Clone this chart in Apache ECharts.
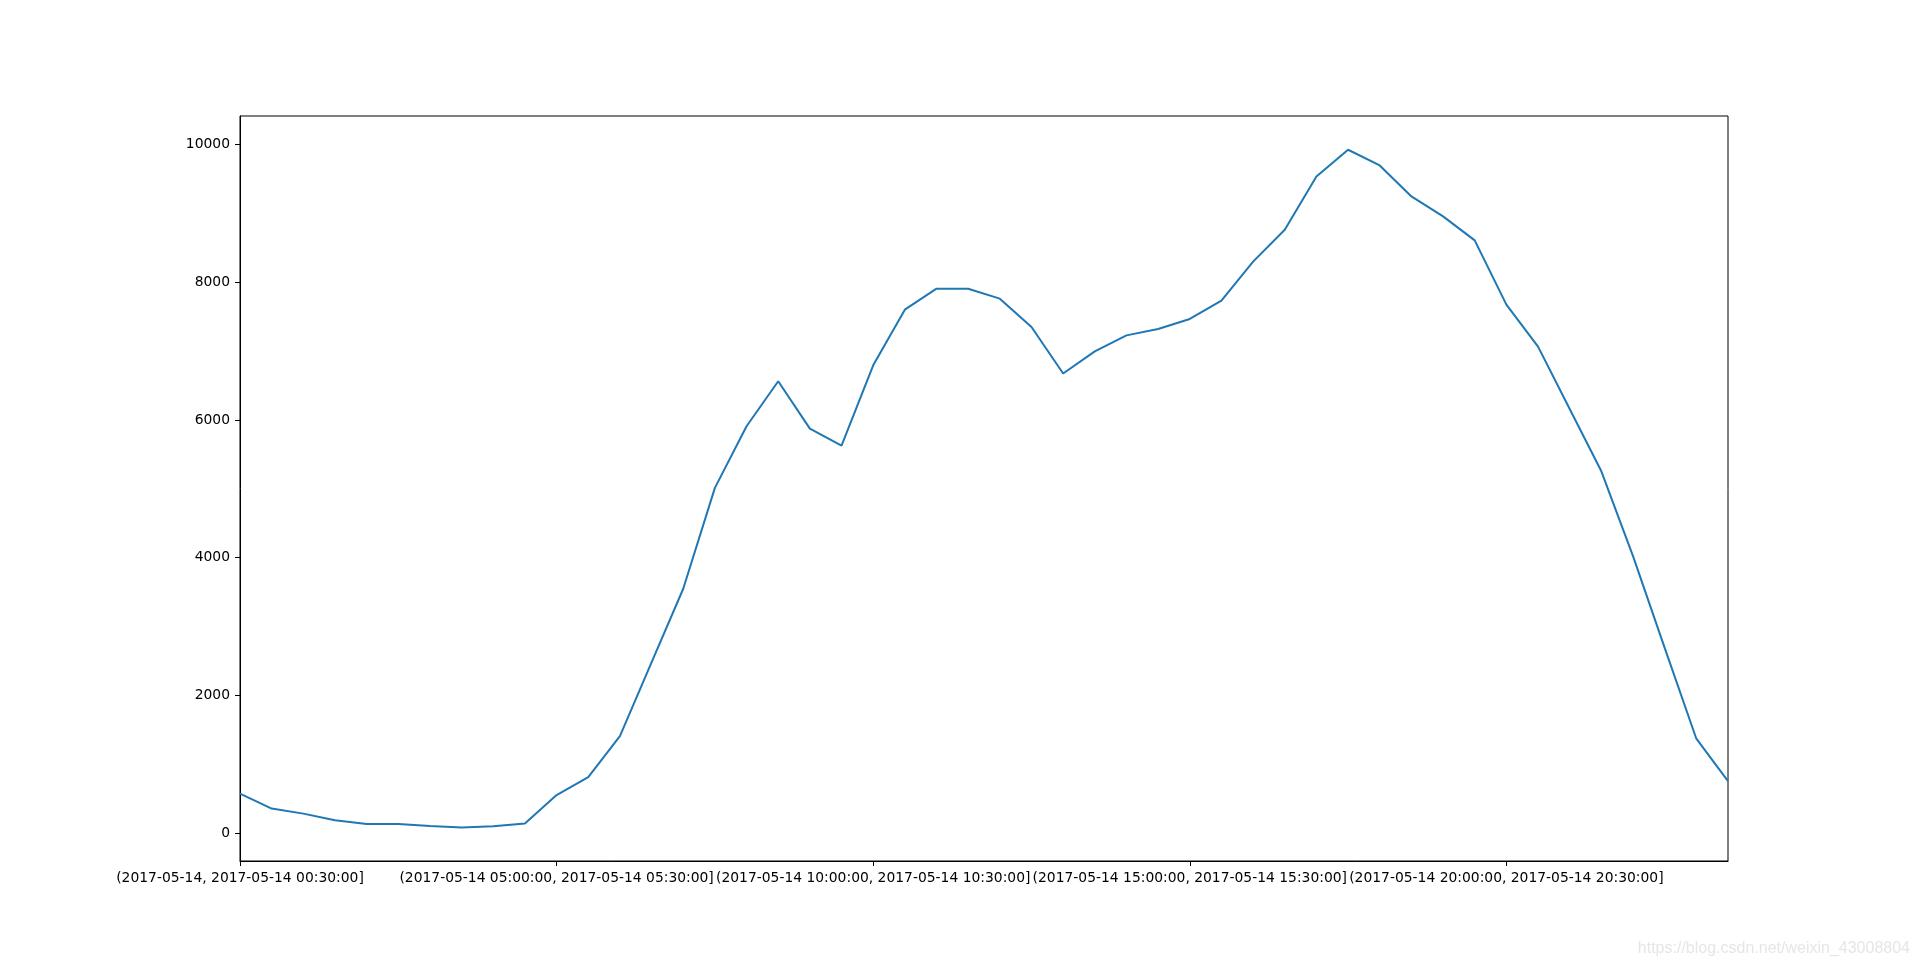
<!DOCTYPE html>
<html>
<head>
<meta charset="utf-8">
<script src="https://cdn.jsdelivr.net/npm/echarts@6/dist/echarts.min.js"></script>
<style>
html,body{margin:0;padding:0;background:#fff;}
#chart{width:1920px;height:969px;}
</style>
</head>
<body>
<div id="chart"></div>
<script>
const categories = [
"(2017-05-14, 2017-05-14 00:30:00]",
"(2017-05-14 00:30:00, 2017-05-14 01:00:00]",
"(2017-05-14 01:00:00, 2017-05-14 01:30:00]",
"(2017-05-14 01:30:00, 2017-05-14 02:00:00]",
"(2017-05-14 02:00:00, 2017-05-14 02:30:00]",
"(2017-05-14 02:30:00, 2017-05-14 03:00:00]",
"(2017-05-14 03:00:00, 2017-05-14 03:30:00]",
"(2017-05-14 03:30:00, 2017-05-14 04:00:00]",
"(2017-05-14 04:00:00, 2017-05-14 04:30:00]",
"(2017-05-14 04:30:00, 2017-05-14 05:00:00]",
"(2017-05-14 05:00:00, 2017-05-14 05:30:00]",
"(2017-05-14 05:30:00, 2017-05-14 06:00:00]",
"(2017-05-14 06:00:00, 2017-05-14 06:30:00]",
"(2017-05-14 06:30:00, 2017-05-14 07:00:00]",
"(2017-05-14 07:00:00, 2017-05-14 07:30:00]",
"(2017-05-14 07:30:00, 2017-05-14 08:00:00]",
"(2017-05-14 08:00:00, 2017-05-14 08:30:00]",
"(2017-05-14 08:30:00, 2017-05-14 09:00:00]",
"(2017-05-14 09:00:00, 2017-05-14 09:30:00]",
"(2017-05-14 09:30:00, 2017-05-14 10:00:00]",
"(2017-05-14 10:00:00, 2017-05-14 10:30:00]",
"(2017-05-14 10:30:00, 2017-05-14 11:00:00]",
"(2017-05-14 11:00:00, 2017-05-14 11:30:00]",
"(2017-05-14 11:30:00, 2017-05-14 12:00:00]",
"(2017-05-14 12:00:00, 2017-05-14 12:30:00]",
"(2017-05-14 12:30:00, 2017-05-14 13:00:00]",
"(2017-05-14 13:00:00, 2017-05-14 13:30:00]",
"(2017-05-14 13:30:00, 2017-05-14 14:00:00]",
"(2017-05-14 14:00:00, 2017-05-14 14:30:00]",
"(2017-05-14 14:30:00, 2017-05-14 15:00:00]",
"(2017-05-14 15:00:00, 2017-05-14 15:30:00]",
"(2017-05-14 15:30:00, 2017-05-14 16:00:00]",
"(2017-05-14 16:00:00, 2017-05-14 16:30:00]",
"(2017-05-14 16:30:00, 2017-05-14 17:00:00]",
"(2017-05-14 17:00:00, 2017-05-14 17:30:00]",
"(2017-05-14 17:30:00, 2017-05-14 18:00:00]",
"(2017-05-14 18:00:00, 2017-05-14 18:30:00]",
"(2017-05-14 18:30:00, 2017-05-14 19:00:00]",
"(2017-05-14 19:00:00, 2017-05-14 19:30:00]",
"(2017-05-14 19:30:00, 2017-05-14 20:00:00]",
"(2017-05-14 20:00:00, 2017-05-14 20:30:00]",
"(2017-05-14 20:30:00, 2017-05-14 21:00:00]",
"(2017-05-14 21:00:00, 2017-05-14 21:30:00]",
"(2017-05-14 21:30:00, 2017-05-14 22:00:00]",
"(2017-05-14 22:00:00, 2017-05-14 22:30:00]",
"(2017-05-14 22:30:00, 2017-05-14 23:00:00]",
"(2017-05-14 23:00:00, 2017-05-14 23:30:00]",
"(2017-05-14 23:30:00, 2017-05-15 00:00:00]"
];
const values = [573, 356, 283, 186, 132, 132, 103, 80, 99, 138,
  553, 814, 1410, 2480, 3549, 5014, 5909, 6562, 5875, 5628,
  6794, 7602, 7907, 7907, 7762, 7351, 6676, 6997, 7229, 7322,
  7467, 7733, 8300, 8763, 9537, 9925, 9697, 9247, 8957, 8608,
  7675, 7065, 6160, 5255, 4022, 2690, 1371, 756];
const xTickIndices = [0, 10, 20, 30, 40];
const yTicks = [0, 2000, 4000, 6000, 8000, 10000];
const yMin = -405, yMax = 10415;

const chart = echarts.init(document.getElementById('chart'), null, {renderer: 'canvas'});
const font = 'DejaVu Sans';
const showIdx = (i) => xTickIndices.indexOf(i) >= 0;
chart.setOption({
  animation: false,
  backgroundColor: '#ffffff',
  grid: {left: 240, right: 192, top: 116, bottom: 108, show: true, borderColor: '#000', borderWidth: 1, backgroundColor: 'transparent'},
  xAxis: {
    type: 'category',
    data: categories,
    boundaryGap: false,
    axisLine: {show: true, onZero: false, lineStyle: {color: '#000', width: 1}},
    axisTick: {show: true, inside: false, length: 5, interval: (i) => showIdx(i), lineStyle: {color: '#000', width: 1}},
    axisLabel: {show: true, interval: (i) => showIdx(i), margin: 10, color: '#000', fontFamily: font, fontSize: 13.89, hideOverlap: false},
    splitLine: {show: false}
  },
  yAxis: {
    type: 'value',
    min: yMin,
    max: yMax,
    axisLine: {show: true, lineStyle: {color: '#000', width: 1}},
    axisTick: {show: true, inside: false, length: 5, customValues: yTicks, lineStyle: {color: '#000', width: 1}},
    axisLabel: {show: true, customValues: yTicks, margin: 10, color: '#000', fontFamily: font, fontSize: 13.89, formatter: (v) => String(v)},
    splitLine: {show: false}
  },
  series: [{
    type: 'line',
    data: values,
    showSymbol: false,
    symbol: 'none',
    lineStyle: {color: '#1f77b4', width: 2},
    itemStyle: {color: '#1f77b4'}
  }],
  graphic: [{
    type: 'text',
    right: 10,
    top: 941,
    style: {text: 'https://blog.csdn.net/weixin_43008804', fill: '#e6e6e6', font: '16px "Liberation Sans", Arial, sans-serif'}
  }]
});
</script>
</body>
</html>
